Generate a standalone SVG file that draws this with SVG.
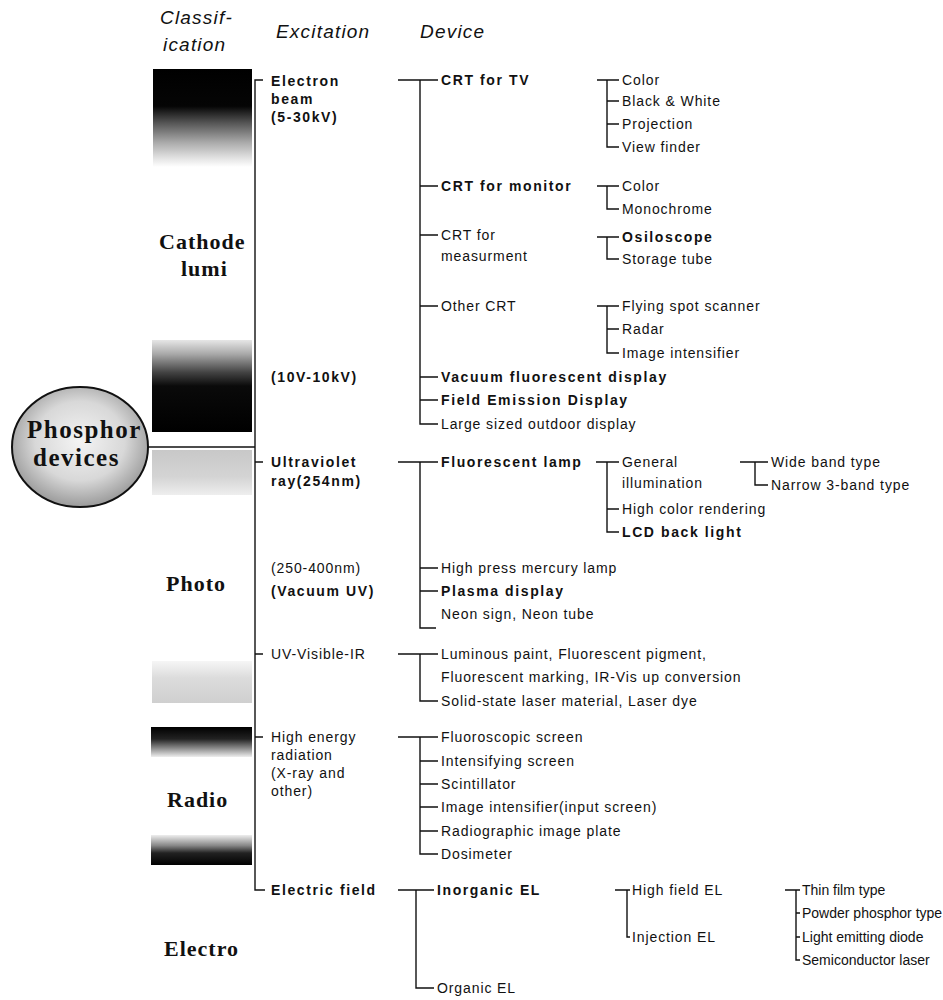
<svg xmlns="http://www.w3.org/2000/svg" width="943" height="1000" viewBox="0 0 943 1000">
<style>
.hd{font-family:"Liberation Sans",Arial,sans-serif;font-style:italic;font-size:19px;fill:#111;letter-spacing:1.2px}
.cl{font-family:"Liberation Serif","Times New Roman",serif;font-weight:bold;font-size:22px;fill:#111;letter-spacing:1px}
.ph{font-family:"Liberation Serif","Times New Roman",serif;font-weight:bold;font-size:25px;fill:#111;letter-spacing:1.5px}
.t{font-family:"Liberation Sans",Arial,sans-serif;font-size:14px;fill:#111;letter-spacing:0.9px}
.s{font-family:"Liberation Sans",Arial,sans-serif;font-size:14px;fill:#111;letter-spacing:0px}
.b{font-family:"Liberation Sans",Arial,sans-serif;font-size:14px;font-weight:bold;fill:#111;letter-spacing:1.6px}
.ln{fill:none;stroke:#111;stroke-width:1.4}
</style>
<defs>
<linearGradient id="g1" x1="0" y1="0" x2="0" y2="1">
<stop offset="0" stop-color="#000"/><stop offset="0.38" stop-color="#050505"/><stop offset="0.55" stop-color="#555"/><stop offset="0.75" stop-color="#aaa"/><stop offset="0.92" stop-color="#e6e6e6"/><stop offset="1" stop-color="#fff"/>
</linearGradient>
<linearGradient id="g2" x1="0" y1="0" x2="0" y2="1">
<stop offset="0" stop-color="#e6e6e6"/><stop offset="0.15" stop-color="#aaa"/><stop offset="0.35" stop-color="#444"/><stop offset="0.5" stop-color="#0a0a0a"/><stop offset="1" stop-color="#000"/>
</linearGradient>
<linearGradient id="g3" x1="0" y1="0" x2="0" y2="1">
<stop offset="0" stop-color="#c8c8c8"/><stop offset="0.6" stop-color="#d4d4d4"/><stop offset="1" stop-color="#eee"/>
</linearGradient>
<linearGradient id="g4" x1="0" y1="0" x2="0" y2="1">
<stop offset="0" stop-color="#f6f6f6"/><stop offset="0.4" stop-color="#dcdcdc"/><stop offset="1" stop-color="#cfcfcf"/>
</linearGradient>
<linearGradient id="g5" x1="0" y1="0" x2="0" y2="1">
<stop offset="0" stop-color="#000"/><stop offset="0.4" stop-color="#222"/><stop offset="0.7" stop-color="#888"/><stop offset="1" stop-color="#eee"/>
</linearGradient>
<linearGradient id="g6" x1="0" y1="0" x2="0" y2="1">
<stop offset="0" stop-color="#eee"/><stop offset="0.35" stop-color="#888"/><stop offset="0.6" stop-color="#222"/><stop offset="1" stop-color="#000"/>
</linearGradient>
<radialGradient id="gc" cx="0.5" cy="0.45" r="0.55">
<stop offset="0" stop-color="#f4f4f4"/><stop offset="0.6" stop-color="#d8d8d8"/><stop offset="1" stop-color="#9a9a9a"/>
</radialGradient>
</defs>
<rect width="943" height="1000" fill="#fff"/>

<g id="headers">
<text class="hd" x="160" y="24">Classif-</text>
<text class="hd" x="163" y="51">ication</text>
<text class="hd" x="276" y="38">Excitation</text>
<text class="hd" x="420" y="38">Device</text>
</g>

<g id="classification">
<rect x="153" y="69" width="99" height="98" fill="url(#g1)"/>
<rect x="152" y="340" width="100" height="92" fill="url(#g2)"/>
<rect x="152" y="450" width="100" height="45" fill="url(#g3)"/>
<rect x="152" y="661" width="100" height="42" fill="url(#g4)"/>
<rect x="151" y="727" width="101" height="30" fill="url(#g5)"/>
<rect x="151" y="835" width="101" height="30" fill="url(#g6)"/>
<text class="cl" x="159" y="249">Cathode</text>
<text class="cl" x="181" y="276">lumi</text>
<text class="cl" x="166" y="591">Photo</text>
<text class="cl" x="167" y="807">Radio</text>
<text class="cl" x="164" y="956">Electro</text>
</g>

<g id="phosphor">
<ellipse cx="80" cy="447" rx="68" ry="60" fill="url(#gc)" stroke="#111" stroke-width="2"/>
<text class="ph" x="27" y="438">Phosphor</text>
<text class="ph" x="33" y="466">devices</text>
</g>

<g id="connectors" class="ln">
<path d="M148,447 H255"/>
<path d="M263,80 H255 V890 H265 M255,462 H263 M255,654 H263 M255,737 H263"/>
<path d="M398,80 H438 M420,80 V424 H438 M420,186 H438 M420,235 H438 M420,306 H438 M420,377 H438 M420,400 H438"/>
<path d="M597,80 H619 M607,80 V147 H619 M607,101 H619 M607,124 H619"/>
<path d="M597,186 H619 M607,186 V209 H619"/>
<path d="M597,237 H619 M607,237 V259 H619"/>
<path d="M597,306 H619 M607,306 V353 H619 M607,329 H619"/>
<path d="M398,462 H438 M420,462 V628 H436 M420,568 H438 M420,591 H438"/>
<path d="M596,462 H619 M607,462 V532 H619 M607,509 H619"/>
<path d="M740,462 H768 M755,462 V485 H768"/>
<path d="M398,654 H438 M420,654 V701 H438"/>
<path d="M398,737 H438 M420,737 V854 H438 M420,761 H438 M420,784 H438 M420,807 H438 M420,831 H438"/>
<path d="M398,890 H434 M416,890 V988 H434"/>
<path d="M615,890 H630 M627,890 V937 H630"/>
<path d="M785,890 H800 M796,890 V960 H800 M796,913 H800 M796,937 H800"/>
</g>

<g id="excitation">
<text class="b" x="271" y="86">Electron</text>
<text class="b" x="271" y="104">beam</text>
<text class="b" x="271" y="122">(5-30kV)</text>
<text class="b" x="271" y="382">(10V-10kV)</text>
<text class="b" x="271" y="467">Ultraviolet</text>
<text class="b" x="271" y="486">ray(254nm)</text>
<text class="t" x="271" y="573">(250-400nm)</text>
<text class="b" x="271" y="596">(Vacuum UV)</text>
<text class="t" x="271" y="659">UV-Visible-IR</text>
<text class="t" x="271" y="742">High energy</text>
<text class="t" x="271" y="760">radiation</text>
<text class="t" x="271" y="778">(X-ray and</text>
<text class="t" x="271" y="796">other)</text>
<text class="b" x="271" y="895">Electric field</text>
</g>

<g id="device">
<text class="b" x="441" y="85">CRT for TV</text>
<text class="b" x="441" y="191">CRT for monitor</text>
<text class="t" x="441" y="240">CRT for</text>
<text class="t" x="441" y="261">measurment</text>
<text class="t" x="441" y="311">Other CRT</text>
<text class="b" x="441" y="382">Vacuum fluorescent display</text>
<text class="b" x="441" y="405">Field Emission Display</text>
<text class="t" x="441" y="429">Large sized outdoor display</text>
<text class="b" x="441" y="467">Fluorescent lamp</text>
<text class="t" x="441" y="573">High press mercury lamp</text>
<text class="b" x="441" y="596">Plasma display</text>
<text class="t" x="441" y="619">Neon sign, Neon tube</text>
<text class="t" x="441" y="659">Luminous paint, Fluorescent pigment,</text>
<text class="t" x="441" y="682">Fluorescent marking, IR-Vis up conversion</text>
<text class="t" x="441" y="706">Solid-state laser material, Laser dye</text>
<text class="t" x="441" y="742">Fluoroscopic screen</text>
<text class="t" x="441" y="766">Intensifying screen</text>
<text class="t" x="441" y="789">Scintillator</text>
<text class="t" x="441" y="812">Image intensifier(input screen)</text>
<text class="t" x="441" y="836">Radiographic image plate</text>
<text class="t" x="441" y="859">Dosimeter</text>
<text class="b" x="437" y="895">Inorganic EL</text>
<text class="t" x="437" y="993">Organic EL</text>
</g>

<g id="subtypes">
<text class="t" x="622" y="85">Color</text>
<text class="t" x="622" y="106">Black &amp; White</text>
<text class="t" x="622" y="129">Projection</text>
<text class="t" x="622" y="152">View finder</text>
<text class="t" x="622" y="191">Color</text>
<text class="t" x="622" y="214">Monochrome</text>
<text class="b" x="622" y="242">Osiloscope</text>
<text class="t" x="622" y="264">Storage tube</text>
<text class="t" x="622" y="311">Flying spot scanner</text>
<text class="t" x="622" y="334">Radar</text>
<text class="t" x="622" y="358">Image intensifier</text>
<text class="t" x="622" y="467">General</text>
<text class="t" x="622" y="488">illumination</text>
<text class="t" x="622" y="514">High color rendering</text>
<text class="b" x="622" y="537">LCD back light</text>
<text class="t" x="771" y="467">Wide band type</text>
<text class="t" x="771" y="490">Narrow 3-band type</text>
<text class="t" x="632" y="895">High field EL</text>
<text class="t" x="632" y="942">Injection EL</text>
<text class="s" x="802" y="895">Thin film type</text>
<text class="s" x="802" y="918">Powder phosphor type</text>
<text class="s" x="802" y="942">Light emitting diode</text>
<text class="s" x="802" y="965">Semiconductor laser</text>
</g>
</svg>
